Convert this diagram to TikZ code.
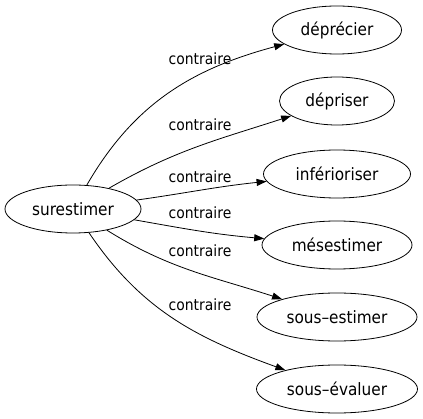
\documentclass[tikz,border=0pt]{standalone}
\usepackage{fontspec}
\setmainfont{DejaVu Sans Condensed}
\usepackage{tikz}
\usetikzlibrary{arrows.meta}
\usetikzlibrary{shapes.geometric}
\tikzset{
  word/.style = {ellipse, draw, line width=0.8pt, inner sep=1pt, minimum height=48pt, font=\fontsize{17}{20}\selectfont},
  rel label/.style = {anchor=base, inner sep=0pt, font=\fontsize{15.5}{18}\selectfont},
  rel/.style = {line width=0.8pt, -{Triangle[length=10pt,width=7pt]}}
}

\begin{document}
\begin{tikzpicture}[x=1pt,y=-1pt]
  \useasboundingbox (0,0) rectangle (423,419);

  \node[word, minimum width=136pt] (sur) at (73,209) {surestimer};

  \node[word, minimum width=129pt] (dep) at (337,30) {déprécier};
  \node[word, minimum width=115pt] (dpr) at (337,101) {dépriser};
  \node[word, minimum width=147pt] (inf) at (337,174) {inférioriser};
  \node[word, minimum width=150pt] (mes) at (337,245) {mésestimer};
  \node[word, minimum width=160pt] (sest) at (337,317) {sous–estimer};
  \node[word, minimum width=161pt] (seval) at (337,389) {sous–évaluer};

  \draw[rel] (sur) to[out=60,in=195] (dep);
  \draw[rel] (sur) to[out=30,in=198] (dpr);
  \draw[rel] (sur) to[out=8,in=186] (inf);
  \draw[rel] (sur) to[out=-10,in=175] (mes);
  \draw[rel] (sur) to[out=-32,in=162] (sest);
  \draw[rel] (sur) to[out=-56,in=160] (seval);

  \node[rel label] (l1) at (200,65) {contraire};
  \node[rel label] (l2) at (200,131) {contraire};
  \node[rel label] (l3) at (200,183) {contraire};
  \node[rel label] (l4) at (200,219) {contraire};
  \node[rel label] (l5) at (200,257) {contraire};
  \node[rel label] (l6) at (200,311) {contraire};

\end{tikzpicture}
\end{document}
